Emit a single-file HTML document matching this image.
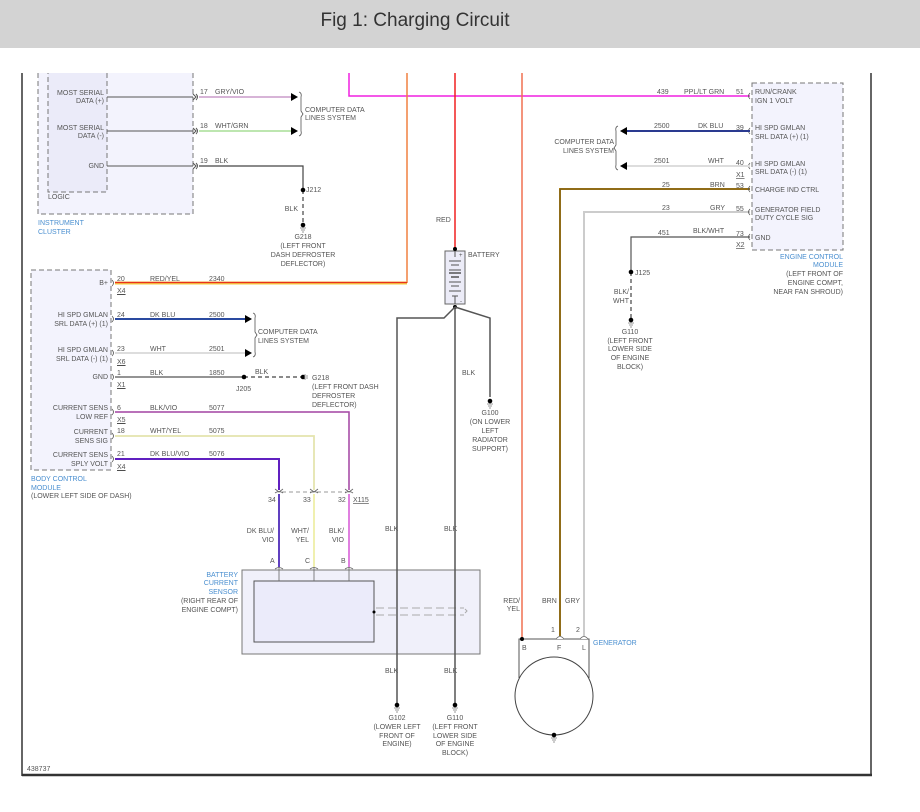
<!DOCTYPE html>
<html><head><meta charset="utf-8"><style>
html,body{margin:0;padding:0;background:#fff;width:920px;height:812px;overflow:hidden}
.hdr{position:absolute;left:0;top:0;width:920px;height:48px;background:#d3d3d3;z-index:2}
.hdr span{position:absolute;left:0;width:830px;top:10px;text-align:center;font:19px "Liberation Sans",sans-serif;color:#333}
svg{position:absolute;left:0;top:0}
text{font-family:"Liberation Sans",sans-serif;font-size:7px;fill:#555}
.b{fill:#4a8fd0}
.r{text-anchor:end}
.m{text-anchor:middle}
</style></head><body>
<div class="hdr"><span>Fig 1: Charging Circuit</span></div>
<svg width="920" height="812" viewBox="0 0 920 812">
<defs>
<g id="gnd"><line x1="0" y1="0" x2="0" y2="3" stroke="#999" stroke-width="1.5"/><line x1="-3" y1="3" x2="3" y2="3" stroke="#999"/><line x1="-2" y1="5" x2="2" y2="5" stroke="#999"/><line x1="-1" y1="7" x2="1" y2="7" stroke="#999"/><circle cx="0" cy="0" r="2.3" fill="#000"/></g>
</defs>
<!-- frame -->
<line x1="22" y1="73" x2="22" y2="776" stroke="#333" stroke-width="1.5"/>
<line x1="871" y1="73" x2="871" y2="776" stroke="#333" stroke-width="1.5"/>
<line x1="22" y1="775" x2="872" y2="775" stroke="#333" stroke-width="2.5"/>
<text x="27" y="771">438737</text>

<!-- Instrument cluster -->
<rect x="38" y="60" width="155" height="154" fill="#f3f3fd" stroke="#777" stroke-dasharray="5,3"/>
<rect x="48" y="60" width="59" height="132" fill="#ebebf9" stroke="#777" stroke-dasharray="5,3"/>
<text x="48" y="199">LOGIC</text>
<text x="38" y="225" class="b">INSTRUMENT</text><text x="38" y="234" class="b">CLUSTER</text>
<text x="104" y="95" class="r">MOST SERIAL</text><text x="104" y="103" class="r">DATA (+)</text>
<text x="104" y="130" class="r">MOST SERIAL</text><text x="104" y="138" class="r">DATA (-)</text>
<text x="104" y="168" class="r">GND</text>
<g stroke="#555" fill="none">
<line x1="107" y1="97" x2="193" y2="97"/><line x1="107" y1="131" x2="193" y2="131"/><line x1="107" y1="166" x2="193" y2="166"/>
<path d="M193,94 l3,3 l-3,3 M196,94 q3,3 0,6 M193,128 l3,3 l-3,3 M196,128 q3,3 0,6 M193,163 l3,3 l-3,3 M196,163 q3,3 0,6"/>
</g>
<line x1="199" y1="97" x2="292" y2="97" stroke="#e6b8e6" stroke-width="2"/>
<line x1="199" y1="97" x2="292" y2="97" stroke="#aaa" stroke-width="0.6"/>
<line x1="199" y1="131" x2="292" y2="131" stroke="#bde6b0" stroke-width="2"/>
<polygon points="291,93 298,97 291,101" fill="#000"/><polygon points="291,127 298,131 291,135" fill="#000"/>
<path d="M299,92 q3,1 2,5 v14 l2,3 l-2,3 v14 q1,4 -2,5" fill="none" stroke="#555" stroke-width="0.8"/>
<text x="305" y="112">COMPUTER DATA</text><text x="305" y="120">LINES SYSTEM</text>
<text x="200" y="94">17</text><text x="215" y="94">GRY/VIO</text>
<text x="200" y="128">18</text><text x="215" y="128">WHT/GRN</text>
<text x="200" y="163">19</text><text x="215" y="163">BLK</text>
<polyline points="199,166 303,166 303,190" fill="none" stroke="#444" stroke-width="1.2"/>
<line x1="303" y1="190" x2="303" y2="224" stroke="#444" stroke-dasharray="4,3" stroke-width="1.2"/>
<circle cx="303" cy="190" r="2.3" fill="#000"/>
<text x="306" y="192">J212</text><text x="298" y="211" class="r">BLK</text>
<use href="#gnd" x="303" y="225"/>
<text x="303" y="239" class="m">G218</text><text x="303" y="248" class="m">(LEFT FRONT</text><text x="303" y="257" class="m">DASH DEFROSTER</text><text x="303" y="266" class="m">DEFLECTOR)</text>

<!-- top verticals -->
<polyline points="349,73 349,96 750,96" fill="none" stroke="#f020e0" stroke-width="1.5"/>
<line x1="407" y1="73" x2="407" y2="283" stroke="#f08040" stroke-width="1.5"/>
<line x1="455" y1="73" x2="455" y2="251" stroke="#f02020" stroke-width="1.5"/>
<line x1="522" y1="73" x2="522" y2="640" stroke="#f07050" stroke-width="1.5"/>

<!-- BCM -->
<rect x="31" y="270" width="80" height="200" fill="#f3f3fd" stroke="#777" stroke-dasharray="5,3"/>
<text x="31" y="481" class="b">BODY CONTROL</text><text x="31" y="490" class="b">MODULE</text><text x="31" y="498">(LOWER LEFT SIDE OF DASH)</text>
<text x="108" y="285" class="r">B+</text>
<text x="108" y="317" class="r">HI SPD GMLAN</text><text x="108" y="326" class="r">SRL DATA (+) (1)</text>
<text x="108" y="352" class="r">HI SPD GMLAN</text><text x="108" y="361" class="r">SRL DATA (-) (1)</text>
<text x="108" y="379" class="r">GND</text>
<text x="108" y="410" class="r">CURRENT SENS</text><text x="108" y="419" class="r">LOW REF</text>
<text x="108" y="434" class="r">CURRENT</text><text x="108" y="443" class="r">SENS SIG</text>
<text x="108" y="457" class="r">CURRENT SENS</text><text x="108" y="466" class="r">SPLY VOLT</text>
<g stroke="#555" fill="none" stroke-width="0.8">
<path d="M112,280 q3,3 0,6 M112,316 q3,3 0,6 M112,350 q3,3 0,6 M112,374 q3,3 0,6 M112,409 q3,3 0,6 M112,433 q3,3 0,6 M112,456 q3,3 0,6"/>
</g>
<line x1="115" y1="283" x2="407" y2="283" stroke="#f5c840" stroke-width="3"/>
<line x1="115" y1="282.5" x2="407" y2="282.5" stroke="#e83020" stroke-width="1.2"/>
<line x1="115" y1="319" x2="246" y2="319" stroke="#2a4aa0" stroke-width="2"/>
<line x1="115" y1="353" x2="246" y2="353" stroke="#ddd" stroke-width="2"/>
<polygon points="245,315 252,319 245,323" fill="#000"/><polygon points="245,349 252,353 245,357" fill="#000"/>
<path d="M253,313 q3,1 2,5 v14 l2,3 l-2,3 v14 q1,4 -2,5" fill="none" stroke="#555" stroke-width="0.8"/>
<text x="258" y="334">COMPUTER DATA</text><text x="258" y="343">LINES SYSTEM</text>
<line x1="115" y1="377" x2="244" y2="377" stroke="#555" stroke-width="1.2"/>
<line x1="244" y1="377" x2="303" y2="377" stroke="#444" stroke-dasharray="4,3" stroke-width="1.2"/>
<circle cx="244" cy="377" r="2.3" fill="#000"/><circle cx="303" cy="377" r="2.3" fill="#000"/>
<path d="M305,374 v6 M307,375 v4" stroke="#999"/>
<text x="236" y="391">J205</text><text x="255" y="374">BLK</text>
<text x="312" y="380">G218</text><text x="312" y="389">(LEFT FRONT DASH</text><text x="312" y="398">DEFROSTER</text><text x="312" y="407">DEFLECTOR)</text>
<polyline points="115,412 349,412 349,490" fill="none" stroke="#e080e0" stroke-width="2"/>
<polyline points="115,412 349,412 349,490" fill="none" stroke="#444" stroke-width="0.5"/>
<polyline points="115,436 314,436 314,490" fill="none" stroke="#f0f0b0" stroke-width="2"/>
<polyline points="115,436 314,436 314,490" fill="none" stroke="#ccc" stroke-width="0.5"/>
<polyline points="115,459 279,459 279,490" fill="none" stroke="#6020c0" stroke-width="2"/>
<text x="117" y="281">20</text><text x="150" y="281">RED/YEL</text><text x="209" y="281">2340</text>
<text x="117" y="317">24</text><text x="150" y="317">DK BLU</text><text x="209" y="317">2500</text>
<text x="117" y="351">23</text><text x="150" y="351">WHT</text><text x="209" y="351">2501</text>
<text x="117" y="375">1</text><text x="150" y="375">BLK</text><text x="209" y="375">1850</text>
<text x="117" y="410">6</text><text x="150" y="410">BLK/VIO</text><text x="209" y="410">5077</text>
<text x="117" y="433">18</text><text x="150" y="433">WHT/YEL</text><text x="209" y="433">5075</text>
<text x="117" y="456">21</text><text x="150" y="456">DK BLU/VIO</text><text x="209" y="456">5076</text>
<g text-decoration="underline"><text x="117" y="293">X4</text><text x="117" y="364">X6</text><text x="117" y="387">X1</text><text x="117" y="422">X5</text><text x="117" y="469">X4</text></g>

<!-- X115 -->
<line x1="282" y1="492" x2="346" y2="492" stroke="#999" stroke-dasharray="4,3"/>
<g fill="none" stroke="#666" stroke-width="0.8">
<path d="M275,489 l4,3 l4,-3 M275,493 q4,-3 8,0 M310,489 l4,3 l4,-3 M310,493 q4,-3 8,0 M345,489 l4,3 l4,-3 M345,493 q4,-3 8,0"/>
</g>
<text x="268" y="502">34</text><text x="303" y="502">33</text><text x="338" y="502">32</text><text x="353" y="502" text-decoration="underline">X115</text>
<line x1="279" y1="494" x2="279" y2="567" stroke="#6040c0" stroke-width="2"/>
<line x1="314" y1="494" x2="314" y2="567" stroke="#f0f0b0" stroke-width="2"/>
<line x1="349" y1="494" x2="349" y2="567" stroke="#e080e0" stroke-width="2"/>
<text x="274" y="533" class="r">DK BLU/</text><text x="274" y="542" class="r">VIO</text>
<text x="309" y="533" class="r">WHT/</text><text x="309" y="542" class="r">YEL</text>
<text x="344" y="533" class="r">BLK/</text><text x="344" y="542" class="r">VIO</text>
<text x="270" y="563">A</text><text x="305" y="563">C</text><text x="341" y="563">B</text>

<!-- sensor -->
<rect x="242" y="570" width="238" height="84" fill="#f0f0fa" stroke="#777"/>
<rect x="254" y="581" width="120" height="61" fill="#ebebfa" stroke="#555"/>
<g fill="none" stroke="#666" stroke-width="0.8">
<path d="M275,569 q4,-3 8,0 M310,569 q4,-3 8,0 M345,569 q4,-3 8,0 M279,567 v14 M314,567 v14 M349,567 v14"/>
</g>
<circle cx="374" cy="612" r="1.5" fill="#000"/>
<path d="M376,608 H464 M376,615 H464 M465,609 l2,2 l-2,2" fill="none" stroke="#aaa" stroke-dasharray="8,4"/>
<text x="238" y="577" class="b r">BATTERY</text><text x="238" y="585" class="b r">CURRENT</text><text x="238" y="594" class="b r">SENSOR</text>
<text x="238" y="603" class="r">(RIGHT REAR OF</text><text x="238" y="612" class="r">ENGINE COMPT)</text>

<!-- battery -->
<text x="436" y="222">RED</text>
<rect x="445" y="251" width="20" height="53" fill="#ececf8" stroke="#666"/>
<g stroke="#555"><line x1="449" y1="261" x2="461" y2="261"/><line x1="451" y1="265" x2="459" y2="265"/><line x1="449" y1="270" x2="461" y2="270"/><line x1="449" y1="273" x2="461" y2="273" stroke-width="1.5"/><line x1="451" y1="277" x2="459" y2="277" stroke-width="1.5"/><line x1="449" y1="282" x2="461" y2="282"/><line x1="451" y1="286" x2="459" y2="286"/><line x1="449" y1="291" x2="461" y2="291"/><line x1="452" y1="296" x2="458" y2="296"/><line x1="455" y1="251" x2="455" y2="257"/><line x1="455" y1="296" x2="455" y2="304"/></g>
<text x="459" y="257" style="font-size:6px">+</text><text x="460" y="303" style="font-size:6px">-</text>
<circle cx="455" cy="249" r="2" fill="#000"/><circle cx="455" cy="307" r="2" fill="#000"/>
<text x="468" y="257">BATTERY</text>
<g fill="none" stroke="#555" stroke-width="1.5">
<polyline points="455,307 444,318 397,318 397,703"/>
<line x1="455" y1="307" x2="455" y2="703"/>
<polyline points="455,307 490,318 490,397"/>
</g>
<use href="#gnd" x="490" y="401"/>
<text x="462" y="375">BLK</text>
<text x="490" y="415" class="m">G100</text><text x="490" y="424" class="m">(ON LOWER</text><text x="490" y="433" class="m">LEFT</text><text x="490" y="442" class="m">RADIATOR</text><text x="490" y="451" class="m">SUPPORT)</text>
<text x="385" y="531">BLK</text><text x="444" y="531">BLK</text><text x="385" y="673">BLK</text><text x="444" y="673">BLK</text>
<use href="#gnd" x="397" y="705"/><use href="#gnd" x="455" y="705"/>
<text x="397" y="720" class="m">G102</text><text x="397" y="729" class="m">(LOWER LEFT</text><text x="397" y="738" class="m">FRONT OF</text><text x="397" y="746" class="m">ENGINE)</text>
<text x="455" y="720" class="m">G110</text><text x="455" y="729" class="m">(LEFT FRONT</text><text x="455" y="738" class="m">LOWER SIDE</text><text x="455" y="746" class="m">OF ENGINE</text><text x="455" y="755" class="m">BLOCK)</text>

<!-- generator -->
<path d="M519,678 V639 H589 V678" fill="none" stroke="#555"/>
<circle cx="554" cy="696" r="39" fill="#fff" stroke="#444"/>
<circle cx="522" cy="639" r="2" fill="#000"/>
<use href="#gnd" x="554" y="735"/>
<text x="522" y="650">B</text><text x="557" y="650">F</text><text x="582" y="650">L</text>
<text x="551" y="632">1</text><text x="576" y="632">2</text>
<text x="593" y="645" class="b">GENERATOR</text>
<text x="520" y="603" class="r">RED/</text><text x="520" y="611" class="r">YEL</text>
<text x="542" y="603">BRN</text><text x="565" y="603">GRY</text>
<polyline points="750,189 560,189 560,636" fill="none" stroke="#b08010" stroke-width="2"/>
<polyline points="750,189 560,189 560,636" fill="none" stroke="#333" stroke-width="0.5"/>
<polyline points="750,212 584,212 584,636" fill="none" stroke="#ccc" stroke-width="2"/>
<path d="M556,639 q4,-5 8,0 M580,639 q4,-5 8,0" fill="#fff" stroke="#666" stroke-width="0.8"/>

<!-- ECM -->
<rect x="752" y="83" width="91" height="167" fill="#f3f3fd" stroke="#777" stroke-dasharray="5,3"/>
<text x="755" y="94">RUN/CRANK</text><text x="755" y="103">IGN 1 VOLT</text>
<text x="755" y="130">HI SPD GMLAN</text><text x="755" y="139">SRL DATA (+) (1)</text>
<text x="755" y="166">HI SPD GMLAN</text><text x="755" y="174">SRL DATA (-) (1)</text>
<text x="755" y="192">CHARGE IND CTRL</text>
<text x="755" y="212">GENERATOR FIELD</text><text x="755" y="220">DUTY CYCLE SIG</text>
<text x="755" y="240">GND</text>
<g fill="none" stroke="#555" stroke-width="0.8"><path d="M750,93 q-3,3 0,6 M750,128 q-3,3 0,6 M750,163 q-3,3 0,6 M750,186 q-3,3 0,6 M750,209 q-3,3 0,6 M750,234 q-3,3 0,6"/></g>
<line x1="626" y1="131" x2="750" y2="131" stroke="#2a3a90" stroke-width="2"/>
<line x1="626" y1="166" x2="750" y2="166" stroke="#ddd" stroke-width="2"/>
<polygon points="627,127 620,131 627,135" fill="#000"/><polygon points="627,162 620,166 627,170" fill="#000"/>
<path d="M618,126 q-3,1 -2,5 v14 l-2,3 l2,3 v14 q-1,4 2,5" fill="none" stroke="#555" stroke-width="0.8"/>
<text x="614" y="144" class="r">COMPUTER DATA</text><text x="614" y="153" class="r">LINES SYSTEM</text>
<text x="657" y="94">439</text><text x="684" y="94">PPL/LT GRN</text><text x="736" y="94">51</text>
<text x="654" y="128">2500</text><text x="698" y="128">DK BLU</text><text x="736" y="130">39</text>
<text x="654" y="163">2501</text><text x="708" y="163">WHT</text><text x="736" y="165">40</text>
<text x="662" y="187">25</text><text x="710" y="187">BRN</text><text x="736" y="188">53</text>
<text x="662" y="210">23</text><text x="710" y="210">GRY</text><text x="736" y="211">55</text>
<text x="658" y="235">451</text><text x="693" y="233">BLK/WHT</text><text x="736" y="236">73</text>
<text x="736" y="177" text-decoration="underline">X1</text><text x="736" y="247" text-decoration="underline">X2</text>
<polyline points="750,237 631,237 631,272" fill="none" stroke="#555" stroke-width="1.2"/>
<line x1="631" y1="272" x2="631" y2="318" stroke="#444" stroke-dasharray="4,3" stroke-width="1.2"/>
<circle cx="631" cy="272" r="2.3" fill="#000"/>
<use href="#gnd" x="631" y="320"/>
<text x="635" y="275">J125</text><text x="629" y="294" class="r">BLK/</text><text x="629" y="303" class="r">WHT</text>
<text x="630" y="334" class="m">G110</text><text x="630" y="343" class="m">(LEFT FRONT</text><text x="630" y="351" class="m">LOWER SIDE</text><text x="630" y="360" class="m">OF ENGINE</text><text x="630" y="369" class="m">BLOCK)</text>
<text x="843" y="259" class="b r">ENGINE CONTROL</text><text x="843" y="267" class="b r">MODULE</text>
<text x="843" y="276" class="r">(LEFT FRONT OF</text><text x="843" y="285" class="r">ENGINE COMPT,</text><text x="843" y="294" class="r">NEAR FAN SHROUD)</text>

<!-- top mask -->
<rect x="0" y="48" width="920" height="25" fill="#fff"/>
</svg>
</body></html>
